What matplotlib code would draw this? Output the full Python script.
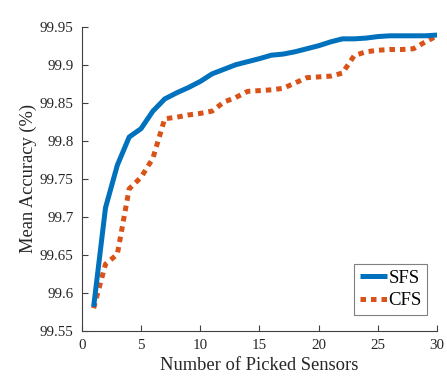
import matplotlib
matplotlib.use('Agg')
import matplotlib.pyplot as plt
import numpy as np

# Number of picked sensors vs. mean accuracy
n_sensors = np.arange(1, 31)
sfs_acc = [99.582, 99.712, 99.768, 99.805, 99.816, 99.839, 99.855, 99.863, 99.870, 99.878,
           99.888, 99.894, 99.900, 99.904, 99.908, 99.9125, 99.914, 99.917, 99.921, 99.925,
           99.930, 99.934, 99.934, 99.935, 99.937, 99.938, 99.938, 99.938, 99.938, 99.939]
cfs_acc = [99.580, 99.638, 99.651, 99.737, 99.752, 99.777, 99.829, 99.831, 99.834, 99.836,
           99.839, 99.851, 99.857, 99.865, 99.866, 99.867, 99.869, 99.876, 99.883, 99.884,
           99.885, 99.889, 99.912, 99.917, 99.919, 99.920, 99.920, 99.921, 99.930, 99.938]

plt.rcParams['font.family'] = ['Liberation Serif', 'DejaVu Serif']

fig = plt.figure(figsize=(4.47, 3.81), dpi=100)
ax = fig.add_axes([0.183, 0.131, 0.795, 0.799])

ax.plot(n_sensors, sfs_acc, color='#0072BD', linewidth=3.6, label='SFS',
        solid_capstyle='butt', zorder=3)
ax.plot(n_sensors, cfs_acc, color='#D95319', linewidth=3.6, label='CFS',
        linestyle=(0, (1.1, 1.0)), dash_capstyle='butt', zorder=2)

ax.set_xlim(0, 30)
ax.set_ylim(99.55, 99.95)
ax.set_xticks([0, 5, 10, 15, 20, 25, 30])
ax.set_yticks([99.55, 99.6, 99.65, 99.7, 99.75, 99.8, 99.85, 99.9, 99.95])
ax.set_yticklabels(['99.55', '99.6', '99.65', '99.7', '99.75', '99.8', '99.85', '99.9', '99.95'])

for side in ('top', 'right'):
    ax.spines[side].set_visible(False)
for side in ('left', 'bottom'):
    ax.spines[side].set_color('#404040')
    ax.spines[side].set_linewidth(0.8)
ax.tick_params(direction='in', length=4, width=0.8, color='#404040',
               labelsize=10.8, labelcolor='#262626', pad=6)

ax.set_xlabel('Number of Picked Sensors', fontsize=13.3, color='#262626', labelpad=3)
ax.set_ylabel('Mean Accuracy (%)', fontsize=13.3, color='#262626', labelpad=2)

leg = ax.legend(loc='lower right', fontsize=13.5, handlelength=1.45, handletextpad=0.08,
                borderpad=0.3, labelspacing=0.3, borderaxespad=0,
                fancybox=False, framealpha=1, edgecolor='#808080',
                bbox_to_anchor=(0.9727, 0.0526))
leg.get_frame().set_linewidth(0.8)

fig.savefig('out.png', dpi=100)
